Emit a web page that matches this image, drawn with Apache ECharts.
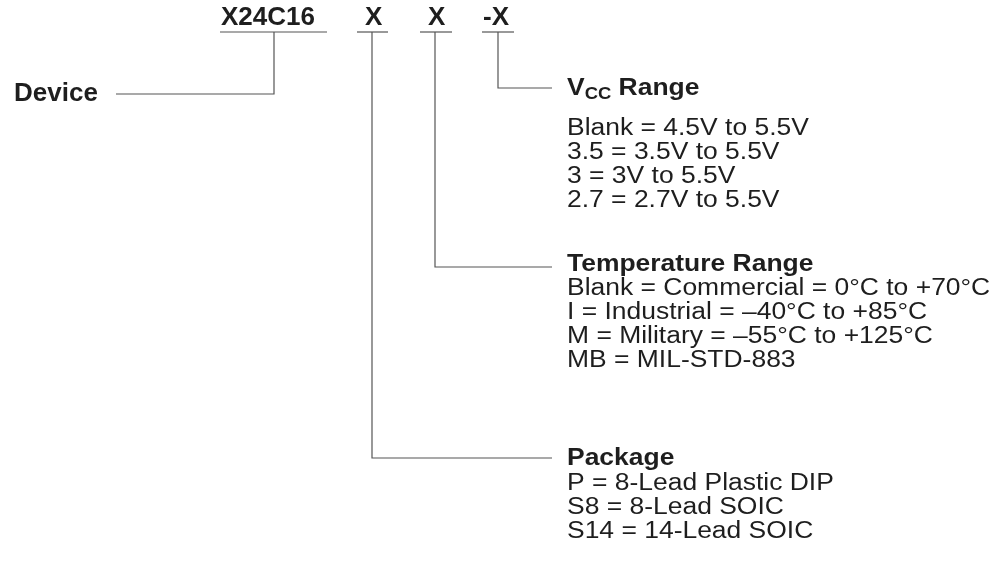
<!DOCTYPE html>
<html><head><meta charset="utf-8">
<script src="https://cdn.jsdelivr.net/npm/echarts@6/dist/echarts.min.js"></script>
<style>html,body{margin:0;padding:0;background:#fff}#c{width:997px;height:568px}</style>
</head><body><div id="c"></div>
<script>
// ---------- content (ordering-information diagram) ----------
const fieldLabels = ['X24C16', 'X', 'X', '-X'];
const deviceLabel = 'Device';
const vccTitle = ['V', 'CC', ' Range'];
const vccOptions = ['Blank = 4.5V to 5.5V', '3.5 = 3.5V to 5.5V', '3 = 3V to 5.5V', '2.7 = 2.7V to 5.5V'];
const tempTitle = 'Temperature Range';
const tempOptions = ['Blank = Commercial = 0\u00B0C to +70\u00B0C', 'I = Industrial = \u201340\u00B0C to +85\u00B0C', 'M = Military = \u201355\u00B0C to +125\u00B0C', 'MB = MIL-STD-883'];
const pkgTitle = 'Package';
const pkgOptions = ['P = 8-Lead Plastic DIP', 'S8 = 8-Lead SOIC', 'S14 = 14-Lead SOIC'];

// ---------- layout (axis units = px on a 997x568 hidden grid) ----------
const fieldLeft = [221, 365, 428, 483];
const fieldY = 18;
const underlines = [[[220, 32], [327, 32]], [[357, 32], [388, 32]], [[420, 32], [452, 32]], [[482, 32], [514, 32]]];
const connectors = [
  [[274, 32], [274, 94], [116, 94]],
  [[498, 32], [498, 88], [552, 88]],
  [[435, 32], [435, 267], [552, 267]],
  [[372, 32], [372, 458], [552, 458]]
];
const textLeft = 567;
const vccTitleY = 89, vccY0 = 129;
const tempTitleY = 265, tempY0 = 289;
const pkgTitleY = 459, pkgY0 = 484;
const lineStep = 24;

const FONT = '"Liberation Sans", Arial, Helvetica, sans-serif';
const INK = '#1e1e1e';
const WIRE = '#555555';
const BIG = 26, TITLE = 23, BODY = 23, SUB = 16;
const SX = 1.15;

const mctx = document.createElement('canvas').getContext('2d');
function tw(t, size, bold) { mctx.font = (bold ? 'bold ' : '') + size + 'px ' + FONT; return mctx.measureText(t).width; }

// build text items
const items = [];
fieldLabels.forEach((t, i) => items.push({x: fieldLeft[i], y: fieldY, text: t, size: BIG, bold: true, sx: 1}));
items.push({x: 14, y: 94, text: deviceLabel, size: BIG, bold: true, sx: 1});
let vx = textLeft;
items.push({x: vx, y: vccTitleY, text: vccTitle[0], size: TITLE, bold: true, sx: SX});
vx += tw(vccTitle[0], TITLE, true) * SX;
items.push({x: vx, y: vccTitleY + 6, text: vccTitle[1], size: SUB, bold: true, sx: SX});
vx += tw(vccTitle[1], SUB, true) * SX;
items.push({x: vx, y: vccTitleY, text: vccTitle[2], size: TITLE, bold: true, sx: SX});
vccOptions.forEach((t, i) => items.push({x: textLeft, y: vccY0 + i * lineStep, text: t, size: BODY, sx: SX}));
items.push({x: textLeft, y: tempTitleY, text: tempTitle, size: TITLE, bold: true, sx: SX});
tempOptions.forEach((t, i) => items.push({x: textLeft, y: tempY0 + i * lineStep, text: t, size: BODY, sx: SX}));
items.push({x: textLeft, y: pkgTitleY, text: pkgTitle, size: TITLE, bold: true, sx: SX});
pkgOptions.forEach((t, i) => items.push({x: textLeft, y: pkgY0 + i * lineStep, text: t, size: BODY, sx: SX}));

const chart = echarts.init(document.getElementById('c'), null, {renderer: 'canvas'});
chart.setOption({
  animation: false,
  backgroundColor: '#ffffff',
  grid: {left: 0, right: 0, top: 0, bottom: 0},
  xAxis: {type: 'value', min: 0, max: 997, show: false},
  yAxis: {type: 'value', min: 0, max: 568, inverse: true, show: false},
  series: [
    {
      type: 'lines', coordinateSystem: 'cartesian2d', polyline: true, silent: true,
      lineStyle: {color: WIRE, width: 1.2, opacity: 1},
      data: underlines.concat(connectors).map(c => ({coords: c}))
    },
    {
      type: 'custom', coordinateSystem: 'cartesian2d', silent: true,
      data: items.map(it => [it.x, it.y]),
      renderItem: function (params, api) {
        const it = items[params.dataIndex];
        const p = api.coord([api.value(0), api.value(1)]);
        return {
          type: 'text', x: p[0], y: p[1], scaleX: it.sx,
          style: {
            text: it.text, fill: INK, fontFamily: FONT, fontSize: it.size,
            fontWeight: it.bold ? 'bold' : 'normal', align: 'left', verticalAlign: 'middle'
          }
        };
      }
    }
  ]
});
</script></body></html>
